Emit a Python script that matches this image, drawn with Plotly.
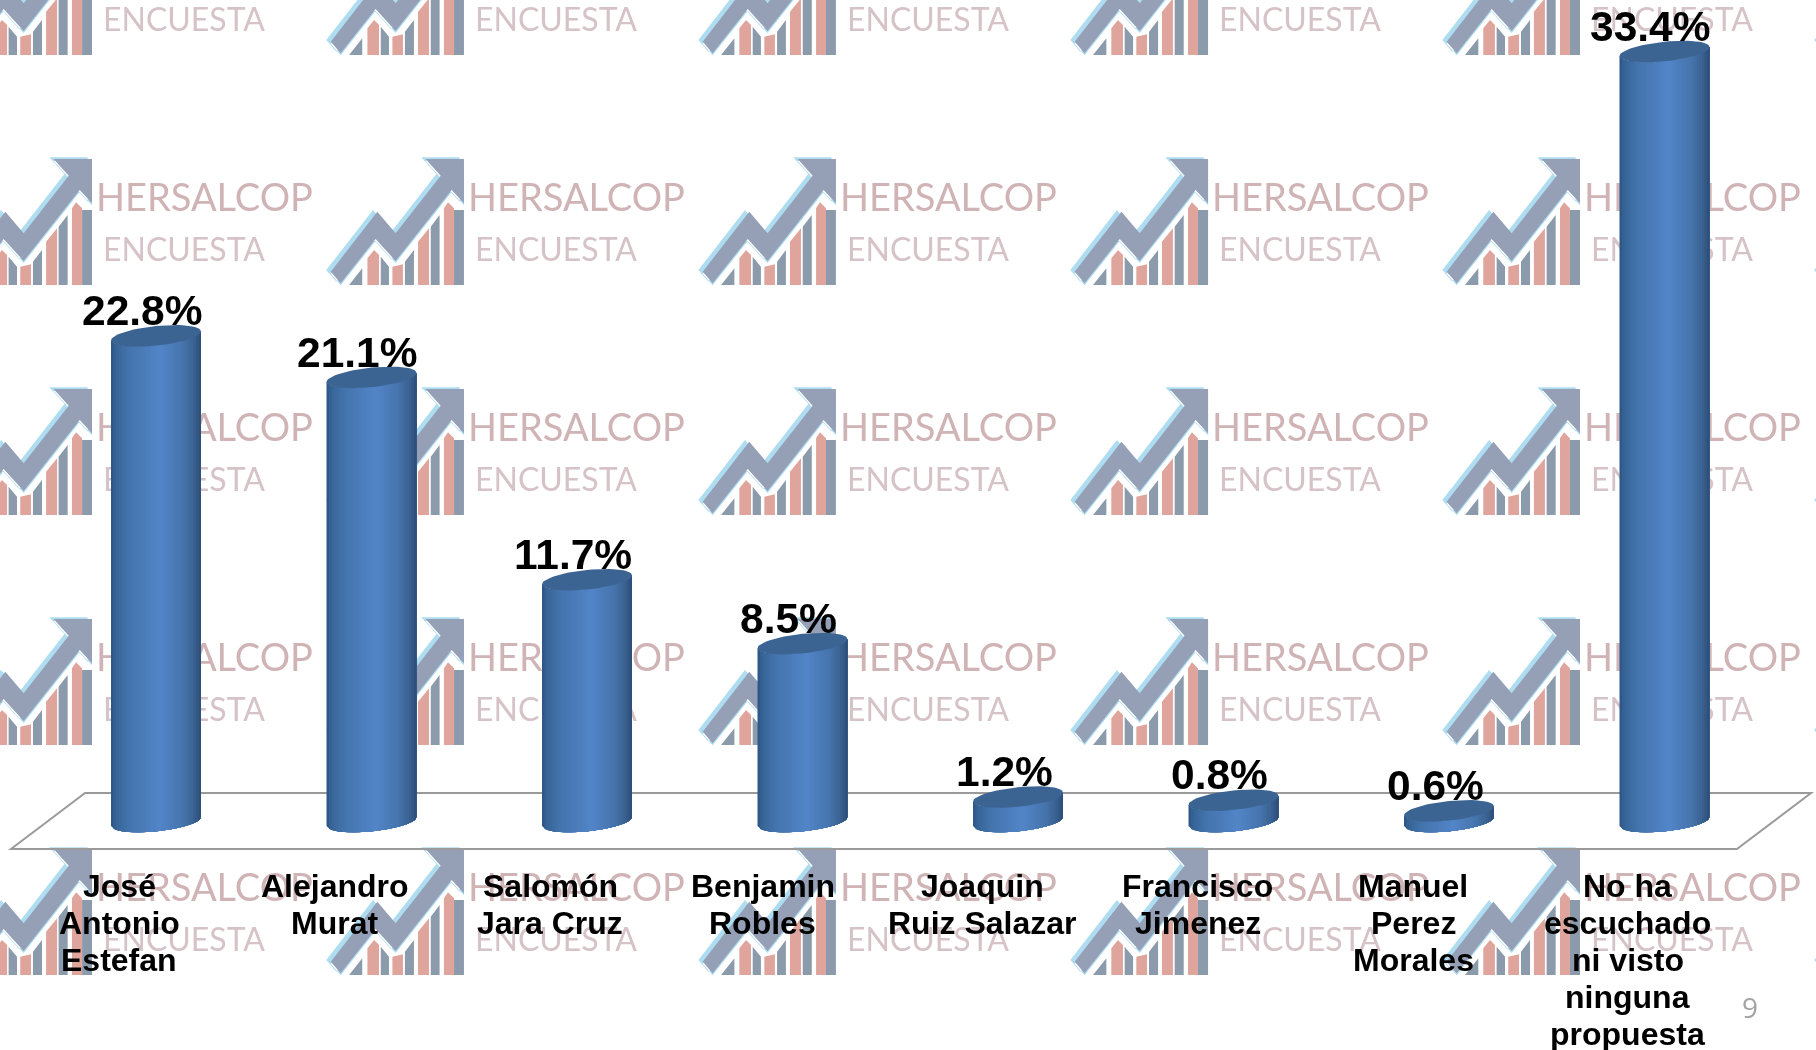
import math
import plotly.graph_objects as go

# ---------- data ----------
categories = [
    ["José", "Antonio", "Estefan"],
    ["Alejandro", "Murat"],
    ["Salomón", "Jara Cruz"],
    ["Benjamin", "Robles"],
    ["Joaquin", "Ruiz Salazar"],
    ["Francisco", "Jimenez"],
    ["Manuel", "Perez", "Morales"],
    ["No ha", "escuchado", "ni visto", "ninguna", "propuesta"],
]
value_labels = [22.8, 21.1, 11.7, 8.5, 1.2, 0.8, 0.6, 33.4]
# Heights as drawn in the reference (its last column is taller than its label says)
drawn_heights = [22.8, 20.85, 11.35, 8.35, 1.15, 1.0, 0.5, 36.15]
label_offsets = [-37, -37, -37, -40, -36, -36, -36, -37]
page_number = "9"

# ---------- canvas / scales ----------
W, H = 1816, 1050
PX_X = 215.5      # pixels per category
PX_Y = 21.3       # pixels per percentage point
X0_PX = 156.0     # pixel position of first category
Y0_PX = 821.5     # pixel position of zero
xr = [-X0_PX / PX_X, (W - X0_PX) / PX_X]
yr = [-(H - Y0_PX) / PX_Y, Y0_PX / PX_Y]

def xd(px):
    return (px - X0_PX) / PX_X

def yd(py):
    return (Y0_PX - py) / PX_Y

# cylinder proportions
A = 45 / PX_X
B = 9.8 / PX_Y
S = 4.5 / PX_Y
N = 36
STOPS = [(0, (44, 84, 130)), (0.05, (54, 100, 150)), (0.2, (68, 116, 173)), (0.55, (82, 133, 200)),
         (0.8, (70, 116, 172)), (0.94, (56, 94, 140)), (1, (44, 76, 116))]

def ramp(t):
    for (t0, c0), (t1, c1) in zip(STOPS, STOPS[1:]):
        if t <= t1:
            f = (t - t0) / (t1 - t0)
            return "rgb(%d,%d,%d)" % tuple(round(a + (b - a) * f) for a, b in zip(c0, c1))
    return "rgb(44,76,116)"

def front_arc(cx, h, d0, steps=24):
    xs, ys = [], []
    for i in range(steps + 1):
        d = d0 + (A - d0) * i / steps
        xs.append(cx + d)
        r = max(0.0, 1 - (d / A) ** 2)
        ys.append(h + S * d / A - B * math.sqrt(r))
    return xs, ys

fig = go.Figure()

# ---------- watermark ----------
ARROW = [(300, 12), (415, 12), (415, 145), (378, 105), (210, 318), (150, 252), (45, 385), (15, 350),
         (155, 170), (210, 235), (345, 62)]
PINK = [[(125, 390), (125, 310), (145, 285), (160, 300), (160, 390)],
        [(200, 390), (200, 335), (232, 328), (232, 390)],
        [(277, 390), (277, 260), (310, 220), (310, 390)],
        [(355, 390), (355, 160), (367, 142), (385, 160), (385, 390)]]
SLATE = [[(70, 390), (110, 340), (110, 390)],
         [(165, 390), (165, 305), (190, 335), (190, 390)],
         [(238, 390), (238, 320), (265, 285), (265, 390)],
         [(315, 390), (315, 215), (342, 180), (342, 390)],
         [(385, 390), (385, 165), (415, 165), (415, 390)]]
COL_RIGHT = [92 + 372 * k for k in range(6)]
ROW_BOTTOM = [55 + 230 * k for k in range(5)]

def poly(points, right, bottom, dx=0, dy=0):
    pts = [(right + (px - 415 + dx) / 3, bottom + (py - 390 + dy) / 3) for px, py in points]
    return "M" + "L".join("%.3f,%.3f" % (xd(a), yd(b)) for a, b in pts) + "Z"

paths = {"blue": [], "arrow": [], "pink": [], "slate": []}
for r in COL_RIGHT:
    for b in ROW_BOTTOM:
        paths["blue"].append(poly(ARROW, r, b, -13, -5))
        paths["blue"].append(poly(ARROW, r, b, 0, 6))
        paths["arrow"].append(poly(ARROW, r, b))
        for p in PINK:
            paths["pink"].append(poly(p, r, b))
        for p in SLATE:
            paths["slate"].append(poly(p, r, b))
colors = {"blue": "#aedcf0", "arrow": "#959fb6", "pink": "#dfa59c", "slate": "#8c9bab"}
shapes = [dict(type="path", path=" ".join(paths[k]), xref="x", yref="y", layer="below",
               fillcolor=colors[k], line=dict(width=0)) for k in paths]

# floor outline, behind the cylinders
floor = [(11, 849), (85, 793), (1811, 793), (1737, 849)]
shapes.append(dict(type="path", xref="x", yref="y", layer="below", fillcolor="rgba(255,255,255,0)",
                   path="M" + "L".join("%.3f,%.3f" % (xd(a), yd(b)) for a, b in floor) + "Z",
                   line=dict(color="#9a9a9a", width=2)))

fig.add_trace(go.Scatter(
    x=[xd(r + 4) for r in COL_RIGHT for b in ROW_BOTTOM],
    y=[yd(b - 84) for r in COL_RIGHT for b in ROW_BOTTOM],
    mode="text", text=["HERSALCOP"] * 30, textposition="middle right",
    textfont=dict(family="Lato", size=38, color="#cfb3b5"), hoverinfo="skip"))
fig.add_trace(go.Scatter(
    x=[xd(r + 11) for r in COL_RIGHT for b in ROW_BOTTOM],
    y=[yd(b - 32) for r in COL_RIGHT for b in ROW_BOTTOM],
    mode="text", text=["ENCUESTA"] * 30, textposition="middle right",
    textfont=dict(family="Lato", size=32, color="#d6c3c8"), hoverinfo="skip"))

# ---------- cylinders (every coordinate follows drawn_heights and the axes) ----------
for k in range(N):
    d0 = -A + 2 * A * k / N
    xs, ys = [], []
    for i, h in enumerate(drawn_heights):
        tx, ty = front_arc(i, h, d0)
        bx, by = front_arc(i, 0, d0)
        xs += tx + bx[::-1] + [None]
        ys += ty + by[::-1] + [None]
    fig.add_trace(go.Scatter(x=xs, y=ys, mode="lines", fill="toself", line=dict(width=0),
                             fillcolor=ramp((k + 0.5) / N), hoverinfo="skip"))

lx, ly = [], []
for i, h in enumerate(drawn_heights):
    for j in range(61):
        t = 2 * math.pi * j / 60
        lx.append(i + A * math.cos(t))
        ly.append(h + S * math.cos(t) + B * math.sin(t))
    lx.append(None)
    ly.append(None)
fig.add_trace(go.Scatter(x=lx, y=ly, mode="lines", fill="toself", line=dict(width=0),
                         fillcolor="#3c6492", hoverinfo="skip"))

# ---------- text ----------
ann = []
TOP_EXT = math.sqrt(B ** 2 + S ** 2)
for i, (v, h) in enumerate(zip(value_labels, drawn_heights)):
    ann.append(dict(x=i, y=h + TOP_EXT, xref="x", yref="y", text="%.1f%%" % v, showarrow=False,
                    xshift=-14, yshift=-11, yanchor="bottom", xanchor="center",
                    font=dict(family="Liberation Sans", size=42.5, color="black", weight="bold")))
for i, lines in enumerate(categories):
    for j, line in enumerate(lines):
        ann.append(dict(x=i, y=yd(886 + 37 * j), xref="x", yref="y", text=line, showarrow=False,
                        xshift=label_offsets[i], xanchor="center", yanchor="middle",
                        font=dict(family="Liberation Sans", size=32, color="black", weight="bold")))
ann.append(dict(x=xd(1750), y=yd(1007), xref="x", yref="y", text=page_number, showarrow=False,
                font=dict(family="Open Sans", size=28, color="#a3a3a3")))

fig.update_layout(
    width=W, height=H, margin=dict(l=0, r=0, t=0, b=0), showlegend=False,
    paper_bgcolor="white", plot_bgcolor="white", shapes=shapes, annotations=ann,
    xaxis=dict(visible=False, range=xr, fixedrange=True),
    yaxis=dict(visible=False, range=yr, fixedrange=True),
)
soft = """
document.body.style.margin='0';document.body.style.overflow='hidden';
var below=document.querySelectorAll('.layer-below .shapelayer path');
below.forEach(function(e,i){if(i<below.length-1){e.style.filter='blur(0.9px)';}});
var tr=document.querySelectorAll('.scatterlayer .trace');
[tr[0],tr[1]].forEach(function(e){if(e){e.style.filter='blur(0.7px)';}});
document.querySelectorAll('.annotation text').forEach(function(e){e.style.filter='blur(0.3px)';});
"""
fig.write_html("out.html", config=dict(displayModeBar=False), post_script=soft)
